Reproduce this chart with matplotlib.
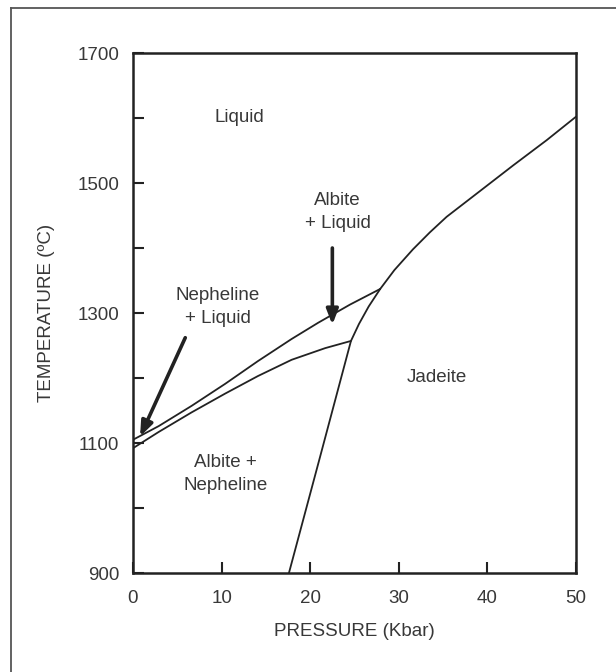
import matplotlib
matplotlib.use("Agg")
import matplotlib.pyplot as plt
from matplotlib.lines import Line2D

plt.rcParams['font.family'] = ['Liberation Sans', 'DejaVu Sans']

# Upper boundary: Nepheline + Liquid / Liquid, and Albite + Liquid lower limit
upper_p = [0, 2.9, 6.6, 10.4, 14.1, 17.9, 20.9, 24.5, 27.9]
upper_t = [1105, 1126, 1157, 1191, 1226, 1260, 1285, 1313, 1337]
# Lower boundary: Albite + Nepheline solidus
lower_p = [0, 2.9, 6.6, 10.4, 14.1, 17.9, 21.7, 24.6]
lower_t = [1092, 1117, 1147, 1176, 1203, 1228, 1246, 1257]
# Jadeite boundary
jd_p = [17.6, 21.1, 24.6, 25.5, 26.6, 27.9]
jd_t = [900, 1078, 1257, 1283, 1310, 1337]
# Liquidus above jadeite
liq_p = [27.9, 29.5, 31.6, 33.5, 35.4, 39.2, 42.9, 46.7, 50]
liq_t = [1337, 1366, 1398, 1424, 1448, 1488, 1527, 1566, 1602]

x_ticks = [0, 10, 20, 30, 40, 50]
y_major = [900, 1100, 1300, 1500, 1700]
y_minor = [1000, 1200, 1400, 1600]

labels = [
    ("Liquid", 12.0, 1600),
    ("Albite\n+ Liquid", 23.1, 1455),
    ("Nepheline\n+ Liquid", 9.6, 1309),
    ("Jadeite", 34.3, 1200),
    ("Albite +\nNepheline", 10.4, 1052),
]
arrows = [  # (tail P, tail T, head P, head T)
    (22.5, 1400, 22.5, 1282),
    (5.9, 1262, 0.8, 1110),
]

ink = '#222222'
txt_col = '#383838'
fig = plt.figure(figsize=(6.16, 6.72), dpi=100)
ax = fig.add_axes([133/616, 1-573/672, (576-133)/616, (573-53)/672])

for p, t in [(upper_p, upper_t), (lower_p, lower_t), (jd_p, jd_t), (liq_p, liq_t)]:
    ax.plot(p, t, color=ink, lw=1.3, solid_capstyle='round', solid_joinstyle='round')

for txt, p, t in labels:
    ax.text(p, t, txt, ha='center', va='center', fontsize=13.5, color=txt_col,
            linespacing=1.45)

for tp, tt, hp, ht in arrows:
    ax.annotate('', xy=(hp, ht), xytext=(tp, tt),
                arrowprops=dict(arrowstyle='-|>,head_length=0.9,head_width=0.35',
                                lw=2.6, color=ink, shrinkA=0, shrinkB=0))

ax.set_xlim(0, 50)
ax.set_ylim(900, 1700)
ax.set_xticks(x_ticks)
ax.set_yticks(y_major)
ax.set_yticks(y_minor, minor=True)
ax.tick_params(axis='both', which='both', direction='in', length=8, width=1.5,
               colors=ink, labelcolor=txt_col, labelsize=13.5)
ax.tick_params(axis='x', pad=12)
ax.tick_params(axis='y', pad=10)
for s in ax.spines.values():
    s.set_linewidth(1.8)
    s.set_color(ink)

ax.set_xlabel('PRESSURE (Kbar)', fontsize=13.5, color=txt_col, labelpad=12)
ax.set_ylabel('TEMPERATURE (ºC)', fontsize=13.5, color=txt_col, labelpad=16)

# outer frame (left and top edges)
fig.add_artist(Line2D([11/616, 11/616], [0, 1-8/672], transform=fig.transFigure,
                      color='#555555', lw=1.3))
fig.add_artist(Line2D([11/616, 1], [1-8/672, 1-8/672], transform=fig.transFigure,
                      color='#555555', lw=1.3))

fig.savefig('out.png', dpi=100)
